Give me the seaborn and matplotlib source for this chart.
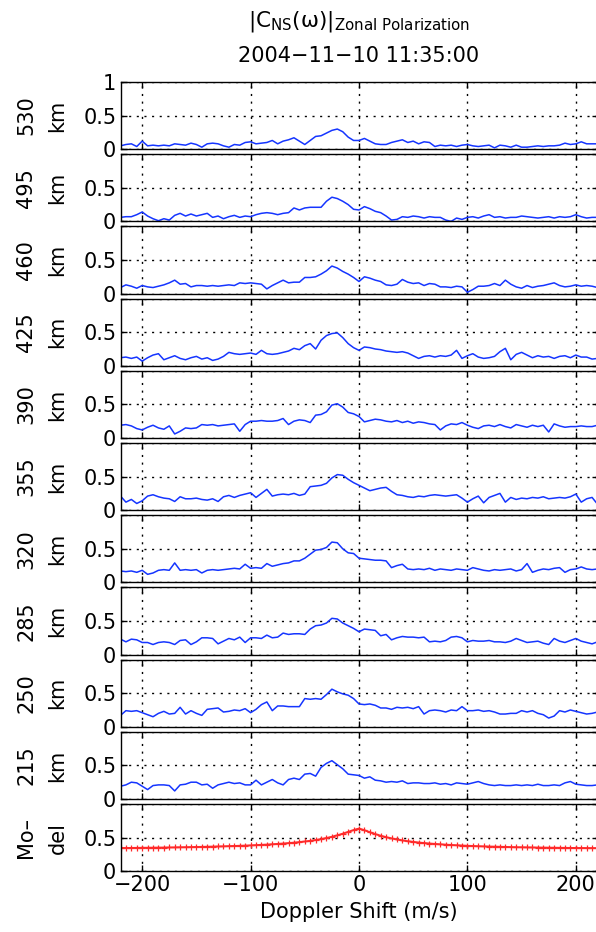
import numpy as np
import pandas as pd
import matplotlib
matplotlib.use('Agg')
import matplotlib.pyplot as plt
import seaborn as sns

# Doppler shift grid (m/s), 5 m/s steps
doppler = np.arange(-220, 221, 5)

altitudes = ['530', '495', '460', '425', '390', '355', '320', '285', '250', '215']

v530 = [0.05, 0.07, 0.08, 0.04, 0.12, 0.05, 0.06, 0.05, 0.06, 0.05,
        0.08, 0.07, 0.06, 0.09, 0.07, 0.03, 0.08, 0.09, 0.08, 0.05,
        0.03, 0.07, 0.06, 0.10, 0.11, 0.08, 0.09, 0.10, 0.13, 0.08,
        0.12, 0.14, 0.17, 0.12, 0.07, 0.13, 0.19, 0.20, 0.24, 0.28,
        0.30, 0.26, 0.18, 0.13, 0.13, 0.16, 0.12, 0.08, 0.07, 0.07,
        0.10, 0.12, 0.14, 0.10, 0.12, 0.08, 0.11, 0.10, 0.04, 0.06,
        0.05, 0.06, 0.04, 0.06, 0.07, 0.05, 0.04, 0.05, 0.06, 0.02,
        0.06, 0.05, 0.03, 0.06, 0.03, 0.03, 0.04, 0.05, 0.04, 0.05,
        0.05, 0.06, 0.09, 0.07, 0.08, 0.11, 0.08, 0.08, 0.08]
v495 = [0.06, 0.07, 0.07, 0.10, 0.14, 0.08, 0.04, 0.01, 0.04, 0.02,
        0.09, 0.12, 0.08, 0.11, 0.08, 0.10, 0.12, 0.06, 0.08, 0.04,
        0.07, 0.09, 0.06, 0.08, 0.07, 0.10, 0.12, 0.13, 0.12, 0.10,
        0.12, 0.13, 0.20, 0.17, 0.20, 0.21, 0.21, 0.21, 0.30, 0.36,
        0.34, 0.30, 0.25, 0.18, 0.17, 0.22, 0.19, 0.15, 0.13, 0.08,
        0.02, 0.03, 0.07, 0.06, 0.08, 0.07, 0.05, 0.07, 0.06, 0.06,
        0.02, 0.00, 0.05, 0.03, 0.06, 0.07, 0.05, 0.08, 0.10, 0.06,
        0.07, 0.05, 0.06, 0.06, 0.08, 0.07, 0.06, 0.05, 0.06, 0.07,
        0.05, 0.07, 0.06, 0.07, 0.10, 0.07, 0.05, 0.06, 0.06]
v460 = [0.09, 0.13, 0.11, 0.08, 0.12, 0.10, 0.09, 0.11, 0.13, 0.16,
        0.20, 0.14, 0.15, 0.10, 0.12, 0.12, 0.11, 0.12, 0.11, 0.12,
        0.13, 0.12, 0.16, 0.15, 0.16, 0.15, 0.14, 0.07, 0.12, 0.16,
        0.20, 0.16, 0.17, 0.17, 0.24, 0.24, 0.25, 0.29, 0.34, 0.41,
        0.38, 0.33, 0.29, 0.24, 0.18, 0.25, 0.23, 0.20, 0.18, 0.13,
        0.12, 0.14, 0.21, 0.17, 0.15, 0.16, 0.12, 0.15, 0.14, 0.10,
        0.10, 0.09, 0.11, 0.10, 0.02, 0.06, 0.11, 0.11, 0.12, 0.15,
        0.12, 0.20, 0.14, 0.10, 0.08, 0.12, 0.09, 0.11, 0.12, 0.14,
        0.16, 0.12, 0.10, 0.11, 0.13, 0.11, 0.12, 0.11, 0.09]
v425 = [0.12, 0.13, 0.11, 0.13, 0.07, 0.12, 0.16, 0.18, 0.09, 0.12,
        0.15, 0.11, 0.09, 0.12, 0.14, 0.10, 0.12, 0.08, 0.10, 0.14,
        0.20, 0.18, 0.17, 0.18, 0.19, 0.17, 0.23, 0.18, 0.17, 0.18,
        0.20, 0.22, 0.26, 0.24, 0.30, 0.33, 0.25, 0.38, 0.45, 0.48,
        0.49, 0.42, 0.33, 0.27, 0.23, 0.28, 0.27, 0.25, 0.24, 0.22,
        0.21, 0.20, 0.21, 0.19, 0.15, 0.11, 0.14, 0.15, 0.13, 0.15,
        0.14, 0.16, 0.23, 0.11, 0.15, 0.18, 0.13, 0.11, 0.12, 0.14,
        0.21, 0.26, 0.09, 0.17, 0.20, 0.16, 0.12, 0.15, 0.13, 0.14,
        0.11, 0.14, 0.15, 0.12, 0.16, 0.13, 0.13, 0.10, 0.11]
v390 = [0.19, 0.20, 0.18, 0.14, 0.12, 0.16, 0.19, 0.15, 0.13, 0.18,
        0.06, 0.10, 0.15, 0.14, 0.15, 0.20, 0.19, 0.20, 0.18, 0.19,
        0.20, 0.21, 0.10, 0.20, 0.25, 0.25, 0.26, 0.25, 0.25, 0.26,
        0.29, 0.20, 0.25, 0.27, 0.26, 0.23, 0.34, 0.35, 0.39, 0.49,
        0.51, 0.46, 0.38, 0.36, 0.32, 0.24, 0.26, 0.28, 0.27, 0.25,
        0.24, 0.26, 0.23, 0.25, 0.22, 0.24, 0.23, 0.21, 0.20, 0.12,
        0.18, 0.21, 0.20, 0.23, 0.19, 0.16, 0.14, 0.18, 0.19, 0.17,
        0.20, 0.17, 0.15, 0.20, 0.18, 0.16, 0.19, 0.17, 0.19, 0.09,
        0.21, 0.18, 0.16, 0.17, 0.17, 0.18, 0.17, 0.17, 0.19]
v355 = [0.21, 0.12, 0.16, 0.10, 0.14, 0.21, 0.23, 0.20, 0.18, 0.17,
        0.13, 0.20, 0.17, 0.17, 0.18, 0.16, 0.15, 0.17, 0.13, 0.20,
        0.22, 0.19, 0.22, 0.24, 0.26, 0.19, 0.25, 0.31, 0.21, 0.23,
        0.24, 0.23, 0.25, 0.22, 0.24, 0.35, 0.36, 0.37, 0.40, 0.48,
        0.53, 0.52, 0.46, 0.41, 0.37, 0.33, 0.29, 0.31, 0.33, 0.34,
        0.28, 0.23, 0.22, 0.20, 0.19, 0.21, 0.20, 0.22, 0.23, 0.22,
        0.21, 0.22, 0.23, 0.18, 0.12, 0.17, 0.21, 0.11, 0.19, 0.22,
        0.25, 0.12, 0.19, 0.16, 0.18, 0.17, 0.19, 0.18, 0.20, 0.17,
        0.18, 0.19, 0.18, 0.20, 0.24, 0.12, 0.17, 0.19, 0.09]
v320 = [0.17, 0.16, 0.17, 0.15, 0.18, 0.12, 0.14, 0.18, 0.19, 0.18,
        0.29, 0.18, 0.19, 0.18, 0.19, 0.14, 0.18, 0.19, 0.18, 0.19,
        0.20, 0.21, 0.20, 0.27, 0.21, 0.22, 0.21, 0.28, 0.24, 0.26,
        0.28, 0.29, 0.32, 0.32, 0.36, 0.42, 0.48, 0.49, 0.52, 0.60,
        0.59, 0.50, 0.44, 0.43, 0.36, 0.35, 0.34, 0.33, 0.33, 0.32,
        0.22, 0.25, 0.27, 0.20, 0.19, 0.20, 0.19, 0.21, 0.18, 0.20,
        0.19, 0.18, 0.20, 0.19, 0.18, 0.22, 0.20, 0.18, 0.17, 0.19,
        0.18, 0.19, 0.20, 0.17, 0.19, 0.28, 0.15, 0.18, 0.20, 0.19,
        0.21, 0.22, 0.15, 0.19, 0.20, 0.23, 0.20, 0.19, 0.20]
v285 = [0.23, 0.19, 0.23, 0.22, 0.18, 0.18, 0.15, 0.18, 0.19, 0.18,
        0.15, 0.21, 0.22, 0.15, 0.19, 0.25, 0.25, 0.24, 0.16, 0.20,
        0.24, 0.22, 0.26, 0.18, 0.25, 0.25, 0.24, 0.29, 0.25, 0.26,
        0.32, 0.30, 0.31, 0.31, 0.30, 0.38, 0.43, 0.44, 0.47, 0.54,
        0.53, 0.47, 0.43, 0.39, 0.34, 0.38, 0.37, 0.36, 0.28, 0.30,
        0.22, 0.25, 0.27, 0.26, 0.26, 0.25, 0.26, 0.19, 0.20, 0.19,
        0.21, 0.26, 0.27, 0.25, 0.19, 0.21, 0.20, 0.20, 0.21, 0.19,
        0.19, 0.18, 0.20, 0.24, 0.21, 0.18, 0.19, 0.20, 0.17, 0.15,
        0.24, 0.20, 0.18, 0.21, 0.24, 0.20, 0.18, 0.16, 0.19]
v250 = [0.17, 0.24, 0.23, 0.24, 0.21, 0.18, 0.15, 0.20, 0.23, 0.19,
        0.20, 0.29, 0.19, 0.24, 0.20, 0.17, 0.26, 0.27, 0.28, 0.22,
        0.23, 0.25, 0.24, 0.27, 0.21, 0.26, 0.33, 0.37, 0.24, 0.31,
        0.31, 0.30, 0.30, 0.30, 0.42, 0.41, 0.42, 0.41, 0.48, 0.56,
        0.52, 0.49, 0.47, 0.42, 0.34, 0.33, 0.34, 0.32, 0.28, 0.28,
        0.26, 0.29, 0.28, 0.29, 0.27, 0.30, 0.19, 0.24, 0.25, 0.24,
        0.22, 0.25, 0.24, 0.30, 0.24, 0.24, 0.25, 0.23, 0.24, 0.22,
        0.19, 0.19, 0.20, 0.20, 0.24, 0.22, 0.24, 0.20, 0.18, 0.13,
        0.16, 0.24, 0.22, 0.25, 0.23, 0.21, 0.19, 0.20, 0.22]
v215 = [0.19, 0.21, 0.25, 0.24, 0.19, 0.14, 0.20, 0.21, 0.21, 0.20,
        0.12, 0.21, 0.22, 0.25, 0.25, 0.21, 0.22, 0.16, 0.21, 0.23,
        0.25, 0.23, 0.24, 0.21, 0.21, 0.28, 0.21, 0.25, 0.29, 0.24,
        0.21, 0.29, 0.31, 0.29, 0.37, 0.38, 0.34, 0.47, 0.53, 0.57,
        0.51, 0.45, 0.37, 0.36, 0.35, 0.31, 0.33, 0.28, 0.27, 0.25,
        0.26, 0.25, 0.27, 0.23, 0.24, 0.24, 0.23, 0.23, 0.24, 0.22,
        0.23, 0.21, 0.24, 0.23, 0.22, 0.24, 0.26, 0.23, 0.21, 0.20,
        0.21, 0.20, 0.20, 0.21, 0.20, 0.21, 0.20, 0.22, 0.20, 0.20,
        0.21, 0.20, 0.24, 0.26, 0.22, 0.21, 0.20, 0.20, 0.21]

model = [0.345, 0.345, 0.346, 0.347, 0.348, 0.349, 0.350, 0.351, 0.352, 0.353,
         0.354, 0.356, 0.357, 0.359, 0.360, 0.362, 0.364, 0.366, 0.368, 0.370,
         0.373, 0.375, 0.378, 0.381, 0.384, 0.388, 0.392, 0.396, 0.401, 0.406,
         0.412, 0.418, 0.425, 0.433, 0.442, 0.452, 0.464, 0.478, 0.494, 0.512,
         0.534, 0.558, 0.585, 0.612, 0.635, 0.610, 0.580, 0.552, 0.528, 0.506,
         0.488, 0.472, 0.458, 0.446, 0.436, 0.427, 0.419, 0.412, 0.406, 0.400,
         0.395, 0.390, 0.386, 0.382, 0.378, 0.375, 0.372, 0.369, 0.367, 0.365,
         0.363, 0.361, 0.359, 0.357, 0.356, 0.354, 0.353, 0.352, 0.351, 0.350,
         0.349, 0.348, 0.347, 0.346, 0.345, 0.345, 0.344, 0.344, 0.343]

series = [v530, v495, v460, v425, v390, v355, v320, v285, v250, v215]

sns.set_style('white')
plt.rcParams['font.family'] = ['DejaVu Sans']
plt.rcParams['axes.unicode_minus'] = True
for k in ['text.color', 'axes.labelcolor', 'xtick.color', 'ytick.color']:
    plt.rcParams[k] = 'black'

fig = plt.figure(figsize=(5.96, 9.32), dpi=100)
W, H = 596.0, 932.0

left = 120.5 / W
width = 477.0 / W
top_px = 82.0
h_px = 67.2
pitch_px = 72.2
fs = 15

panels = [((a, 'km'), v, 'blue') for a, v in zip(altitudes, series)]
panels.append((('Mo\u2013', 'del'), model, 'red'))

for i, (label, vals, kind) in enumerate(panels):
    y0 = top_px + i * pitch_px
    ax = fig.add_axes([left, 1 - (y0 + h_px) / H, width, h_px / H])
    df = pd.DataFrame({'doppler': doppler, 'value': vals})
    if kind == 'blue':
        sns.lineplot(data=df, x='doppler', y='value', ax=ax, color='#1535ff', lw=1.1)
    else:
        sns.lineplot(data=df, x='doppler', y='value', ax=ax, color='#ff2a2a', lw=1.4,
                     marker='+', markersize=4, markeredgewidth=0.9,
                     markeredgecolor='#ff2a2a')
    ax.set_xlim(-220, 220)
    ax.set_ylim(0, 1)
    ax.set_xticks([-200, -100, 0, 100, 200])
    ax.set_yticks([0, 0.5, 1])
    ax.set_yticklabels(['0', '0.5', '1' if i == 0 else ''])
    ax.grid(True, color='k', linestyle=(0, (1.5, 4)), linewidth=1.0)
    for s in ax.spines.values():
        s.set_color('black')
        s.set_linewidth(1.0)
    ax.tick_params(direction='in', length=4, width=1.0, color='black',
                   top=True, bottom=True, left=True, right=True,
                   labelsize=fs, pad=3)
    ax.set_ylabel('')
    if i < len(panels) - 1:
        ax.set_xticklabels([])
        ax.set_xlabel('')
    else:
        ax.set_xlabel('Doppler Shift (m/s)', fontsize=fs, labelpad=5)
    # two-line y label, MATLAB style
    yc = 1 - (y0 + h_px / 2) / H
    fig.text(26.0 / W, yc, label[0], rotation=90, ha='center', va='center', fontsize=fs)
    fig.text(57.5 / W, yc, label[1], rotation=90, ha='center', va='center', fontsize=fs)

cx = (120.5 + 597.5) / 2 / W
fig.text(cx, 1 - 22.0 / H, r'$\mathregular{|C_{NS}(\omega)|_{Zonal\ Polarization}}$',
         ha='center', va='center', fontsize=15.5)
fig.text(cx, 1 - 56.0 / H, '2004\u221211\u221210 11:35:00',
         ha='center', va='center', fontsize=fs)

fig.savefig('out.png', dpi=100)
